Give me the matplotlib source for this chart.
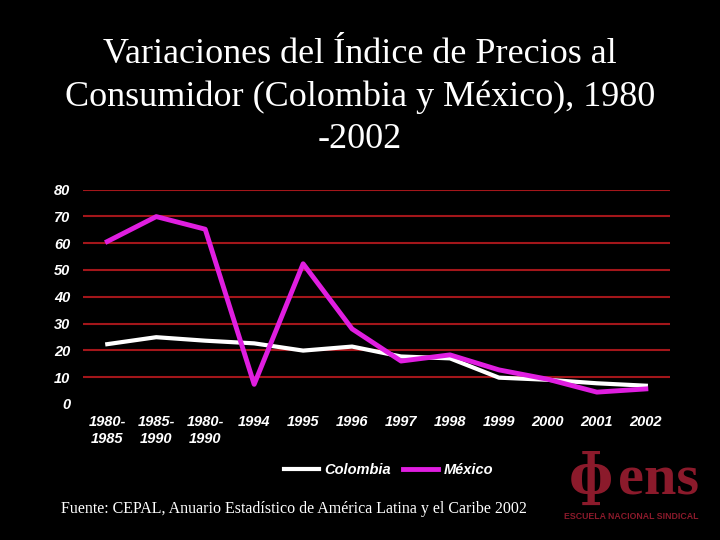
import numpy as np
import matplotlib
matplotlib.use('Agg')
import matplotlib.pyplot as plt

periods = ['1980-\n1985', '1985-\n1990', '1980-\n1990', '1994', '1995', '1996',
           '1997', '1998', '1999', '2000', '2001', '2002']
colombia = [22.3, 24.9, 23.6, 22.6, 19.9, 21.4, 17.7, 17.0, 9.8, 9.0, 7.7, 6.8]
mexico = [60.6, 69.9, 65.2, 7.3, 52.3, 28.0, 16.0, 18.3, 12.7, 9.2, 4.4, 5.6]
yticks = [0, 10, 20, 30, 40, 50, 60, 70, 80]

fig = plt.figure(figsize=(7.2, 5.4), dpi=100, facecolor='black')

# titulo
fig.text(0.5, 0.93, 'Variaciones del Índice de Precios al\nConsumidor (Colombia y México), 1980\n-2002',
         ha='center', va='top', color='white', fontsize=26, linespacing=1.37,
         family='Liberation Serif')

ax = fig.add_axes([0.115, 0.252, 0.816, 0.397], facecolor='black')
x = np.arange(len(periods))
ax.plot(x, colombia, color='white', lw=3, label='Colombia')
ax.plot(x, mexico, color='#e01ee0', lw=3.5, label='México')

ax.set_xlim(-0.5, 11.5)
ax.set_ylim(0, 80)
ax.set_yticks(yticks)
for v in yticks[1:]:
    ax.axhline(v, color='#a3161a', lw=1.5, zorder=0)
for s in ax.spines.values():
    s.set_visible(False)
ax.tick_params(length=0, colors='white')
ax.set_xticks(x)
ax.set_xticklabels(periods, fontsize=10.5, fontweight='bold', style='italic',
                   family='Liberation Sans', linespacing=1.25)
ax.set_yticklabels([str(v) for v in yticks], fontsize=10.5, fontweight='bold',
                   style='italic', family='Liberation Sans')
ax.tick_params(axis='x', pad=8)
ax.tick_params(axis='y', pad=9)

leg = ax.legend(loc='upper center', bbox_to_anchor=(0.52, -0.215), ncol=2, frameon=False,
                handlelength=2.4, columnspacing=0.8, handletextpad=0.4,
                prop={'family': 'Liberation Sans', 'weight': 'bold', 'style': 'italic', 'size': 10.5})
for t in leg.get_texts():
    t.set_color('white')

fig.text(0.085, 0.05, 'Fuente: CEPAL, Anuario Estadístico de América Latina y el Caribe 2002',
         color='white', fontsize=11.5, family='Liberation Serif')

# logo aproximado
fig.text(0.82, 0.085, 'ɸ', color='#8b1a2b', fontsize=40, family='DejaVu Serif',
         fontweight='bold', ha='center')
fig.text(0.915, 0.085, 'ens', color='#8b1a2b', fontsize=42, family='Liberation Serif',
         fontweight='bold', ha='center')
fig.text(0.877, 0.043, 'ESCUELA NACIONAL SINDICAL', color='#8b1a2b', fontsize=6.3,
         family='Liberation Sans', fontweight='bold', ha='center', va='center')

fig.savefig('out.png', facecolor='black')
